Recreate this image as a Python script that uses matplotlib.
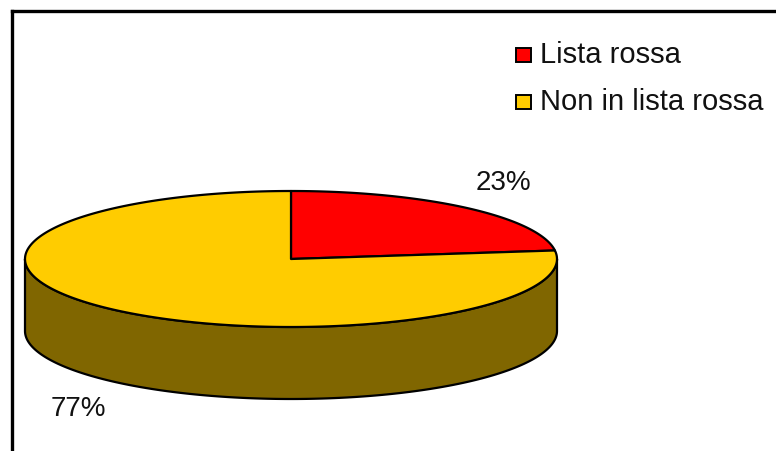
"""
Recreate an Excel-style 3D pie chart (Lista rossa vs Non in lista rossa).
"""

import matplotlib
matplotlib.use("Agg")
import matplotlib.pyplot as plt
import numpy as np
from matplotlib.patches import Polygon

# ── Data ──────────────────────────────────────────────────────────────────
labels = ["Lista rossa", "Non in lista rossa"]
values = [23, 77]
top_colors = ["#FF0000", "#FFCC00"]
side_colors = ["#800000", "#806600"]

# ── Pie geometry (pixel coordinates, y pointing down) ─────────────────────
CX, CY = 291, 260       # centre of the top face
RX, RY = 266, 68        # ellipse radii
DEPTH = 72              # thickness of the pie

plt.rcParams["font.family"] = ["Liberation Sans", "DejaVu Sans"]


def ellipse_pts(theta_deg, dy=0.0):
    """Points on the ellipse; angle measured clockwise from 12 o'clock."""
    th = np.radians(theta_deg)
    return np.column_stack([CX + RX * np.sin(th), CY - RY * np.cos(th) + dy])


fig = plt.figure(figsize=(7.76, 4.52), dpi=100)
ax = fig.add_axes([0, 0, 1, 1])
ax.set_xlim(0, 776)
ax.set_ylim(452, 0)
ax.axis("off")

total = float(sum(values))
bounds = np.concatenate([[0], np.cumsum(values) / total * 360.0])

# sides first (only the front half, 90°..270°, is visible)
for i in range(len(values)):
    lo, hi = max(bounds[i], 90.0), min(bounds[i + 1], 270.0)
    if lo >= hi:
        continue
    t = np.linspace(lo, hi, 200)
    top = ellipse_pts(t)
    bot = ellipse_pts(t, DEPTH)[::-1]
    ax.add_patch(Polygon(np.vstack([top, bot]), closed=True,
                         facecolor=side_colors[i], edgecolor="black",
                         linewidth=1.6, joinstyle="round"))

# top faces
for i in range(len(values)):
    t = np.linspace(bounds[i], bounds[i + 1], 300)
    pts = np.vstack([[CX, CY], ellipse_pts(t)])
    ax.add_patch(Polygon(pts, closed=True, facecolor=top_colors[i],
                         edgecolor="black", linewidth=1.6, joinstyle="round"))

# percentage labels
for i, v in enumerate(values):
    mid = np.radians((bounds[i] + bounds[i + 1]) / 2)
    x = CX + 1.21 * RX * np.sin(mid)
    y = CY - 1.5 * RY * np.cos(mid)
    if np.cos(mid) < 0:
        y += DEPTH
    ax.text(x, y, f"{v}%", fontsize=20, ha="center", va="center",
            color="#111111")

# legend (drawn by hand to match the original placement)
for i, lab in enumerate(labels):
    y = 56 + i * 47
    ax.add_patch(plt.Rectangle((516, y - 7), 15, 14, facecolor=top_colors[i],
                               edgecolor="black", linewidth=1.4))
    ax.text(540, y - 1, lab, fontsize=21, ha="left", va="center",
            color="#111111")

# chart frame (top and left edges visible, the rest runs off the image)
ax.plot([12, 800], [12, 12], color="black", linewidth=2.4,
        solid_capstyle="projecting", clip_on=False)
ax.plot([12, 12], [12, 470], color="black", linewidth=2.4,
        solid_capstyle="projecting", clip_on=False)

fig.savefig("out.png", dpi=100)
plt.close(fig)
